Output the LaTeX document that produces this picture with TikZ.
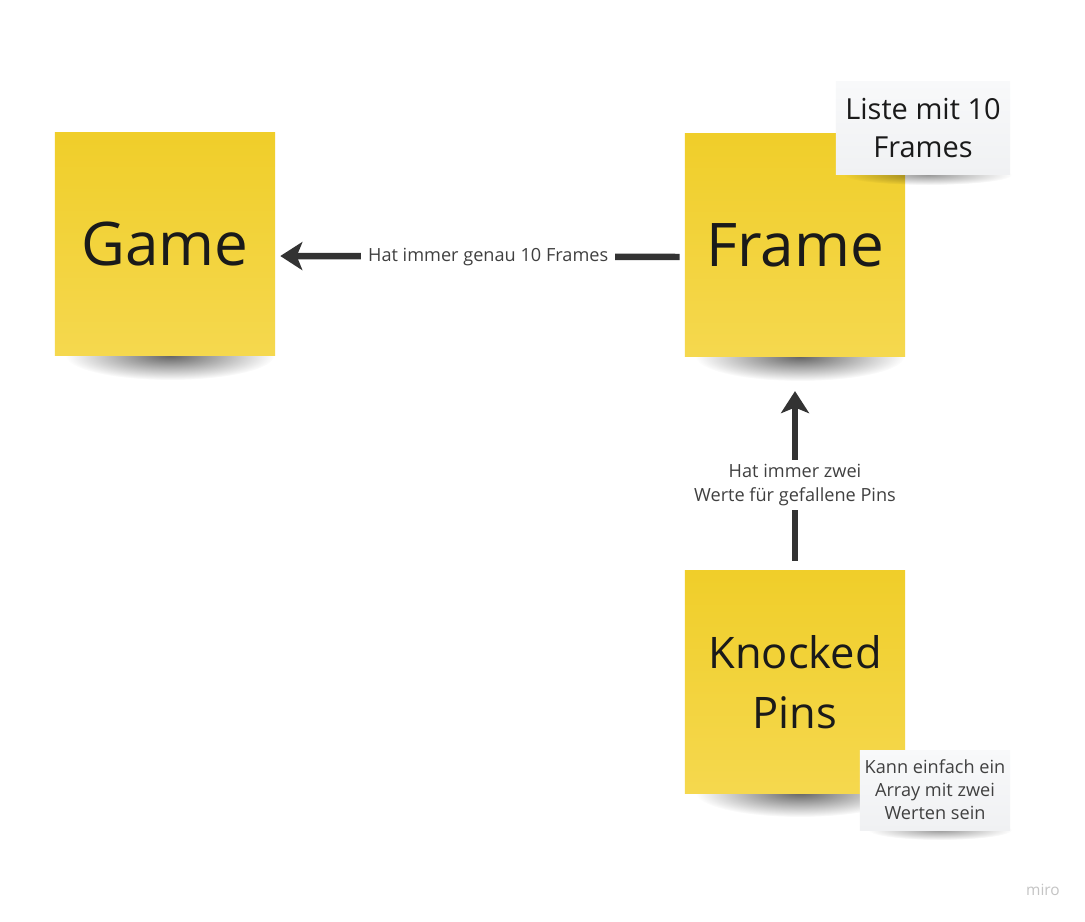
\documentclass[tikz,border=0pt]{standalone}
\usepackage{fontspec}
\setmainfont{Open Sans}
\usetikzlibrary{arrows.meta, fadings}
\definecolor{stickytop}{HTML}{F0CE2A}
\definecolor{stickybot}{HTML}{F5D84E}
\definecolor{memotop}{HTML}{F8F9FA}
\definecolor{memobot}{HTML}{F0F1F3}
\definecolor{ink}{HTML}{1A1A1A}
\definecolor{linkgray}{HTML}{333333}
\definecolor{labelgray}{HTML}{404040}
\definecolor{mirogray}{HTML}{C4C4C4}
\tikzfading[name=softshadow, inner color=transparent!0, outer color=transparent!100]
\tikzset{>={Stealth[length=0.55cm, width=0.7cm, inset=0.14cm]}}
\tikzset{
  sticky/.style={minimum width=5.5cm, minimum height=5.55cm, top color=stickytop, bottom color=stickybot, text=ink, align=center, inner sep=0pt},
  memo/.style={top color=memotop, bottom color=memobot, text=ink, align=center, inner sep=0pt},
  shadow/.style={fill=black, opacity=0.6, path fading=softshadow},
  link/.style={->, line width=4.6pt, draw=linkgray},
  linklabel/.style={fill=white, text=labelgray, font=\fontsize{12.9}{17.4}\selectfont, align=center, inner xsep=0.17cm, inner ysep=0.1cm}
}
\begin{document}
\begin{tikzpicture}[x=0.025cm, y=-0.025cm]
\useasboundingbox[fill=white] (0,0) rectangle (1085,921);
\foreach \x/\y in {170/356, 800/357, 800/793}
\fill[shadow] (\x,\y) ellipse [x radius=2.6cm, y radius=0.6cm];
\node[sticky, font=\fontsize{42.8}{58}\selectfont] (game) at (165,244) {Game};
\node[sticky, font=\fontsize{42.8}{58}\selectfont] (frame) at (795,245) {Frame};
\node[sticky, font=\fontsize{30.9}{42.7}\selectfont] (pins) at (795,682) {Knocked\\Pins};
\fill[shadow, opacity=0.4] (928,175) ellipse [x radius=2.1cm, y radius=0.25cm];
\fill[shadow, opacity=0.4] (940,830) ellipse [x radius=1.8cm, y radius=0.25cm];
\node[memo, minimum width=4.35cm, minimum height=2.33cm, font=\fontsize{20.6}{27.6}\selectfont] (liste) at (923,128) {Liste mit 10\\Frames};
\node[memo, minimum width=3.75cm, minimum height=2cm, text=labelgray, font=\fontsize{12.9}{16.3}\selectfont] (array) at (935,790) {Kann einfach ein\\Array mit zwei\\Werten sein};
\draw[link, shorten <=0.125cm, shorten >=0.125cm] ([yshift=-0.3cm]frame.west) -- node[linklabel, pos=0.48] {Hat immer genau 10 Frames} ([yshift=-0.3cm]game.east);
\draw[link, shorten <=0.25cm, shorten >=0.87cm] (pins.north) -- node[linklabel, pos=0.4] {Hat immer zwei\\Werte für gefallene Pins} (frame.south);
\node[text=mirogray, font=\fontsize{11}{13}\selectfont] (miro) at (1043,890) {miro};
\end{tikzpicture}
\end{document}
